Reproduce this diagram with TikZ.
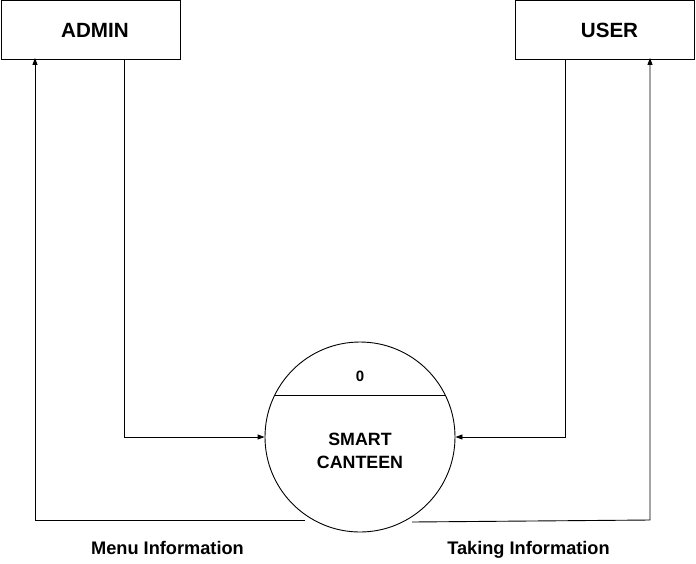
\documentclass[tikz,border=0pt]{standalone}
\usepackage{fontspec}
\setmainfont{Liberation Sans}
\usetikzlibrary{arrows.meta,calc}
\begin{document}
\begin{tikzpicture}[x=1pt,y=-1pt,
  ent/.style={draw,line width=0.9pt,minimum width=179pt,minimum height=59pt,inner sep=0pt,font=\fontsize{20.6}{22}\selectfont\bfseries},
  proc/.style={draw,circle,line width=0.9pt,minimum size=190pt,inner sep=0pt},
  flow/.style={line width=0.9pt,-{Triangle[length=7pt,width=5pt]}},
  lbl/.style={anchor=base,font=\fontsize{18.2}{20}\selectfont\bfseries}]
\useasboundingbox (0,0) rectangle (696,563);
\node[ent] (admin) at (90.5,30) {\hspace*{9pt}ADMIN};
\node[ent] (user) at (605,30) {\hspace*{9pt}USER};
\node[proc] (sc) at (360,437) {};
\draw[line width=0.9pt] ($(sc.center)+(-85.2,-42)$) coordinate (chl) -- ($(sc.center)+(85.2,-42)$) coordinate (chr);
\node[font=\fontsize{15}{17}\selectfont\bfseries] (num) at (360,376) {0};
\node[font=\fontsize{17.8}{22.5}\selectfont\bfseries,align=center] (name) at (360,451) {SMART\\CANTEEN};
\draw[flow] ([xshift=33.5pt]admin.south) |- (sc.west);
\draw[flow] ([xshift=-40pt]user.south) |- (sc.east);
\coordinate (m1) at (305,520);
\coordinate (t1) at (412,522);
\coordinate (t2) at (650,520);
\draw[flow] (m1) -| ([xshift=-55.5pt,yshift=2pt]admin.south);
\draw[flow] (t1) -- (t2) -- ([yshift=2pt]user.south -| t2);
\node[lbl] (menu) at (167.5,554.5) {Menu Information};
\node[lbl] (take) at (528.5,554.5) {Taking Information};
\end{tikzpicture}
\end{document}
